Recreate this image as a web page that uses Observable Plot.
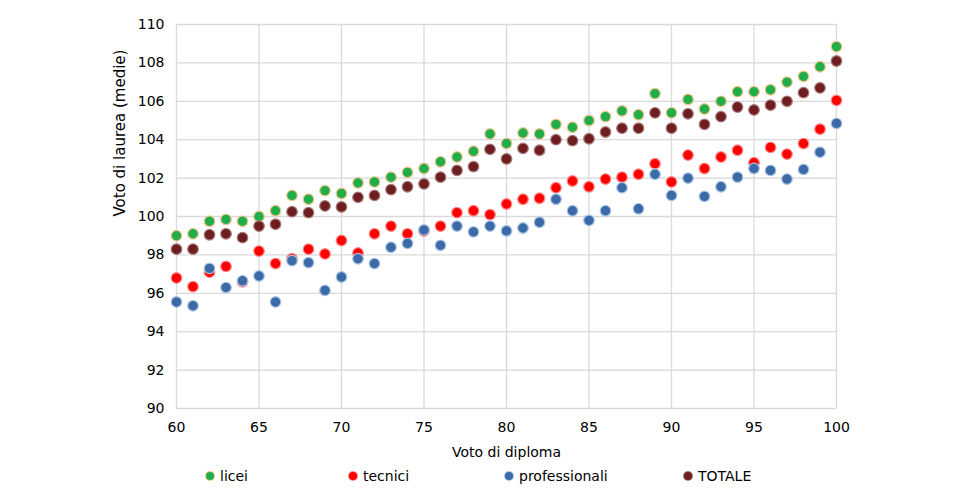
<!DOCTYPE html>
<html><head><meta charset="utf-8">
<script src="https://cdn.jsdelivr.net/npm/d3@7"></script>
<script src="https://cdn.jsdelivr.net/npm/@observablehq/plot@0.6"></script>
<style>
body{margin:0;background:#fff;font-family:"DejaVu Sans",sans-serif;}
#wrap{position:relative;width:964px;height:502px;}
#legend{position:absolute;left:0;top:460px;width:964px;height:42px;font-size:14px;color:#000;}
.li{position:absolute;top:8px;display:flex;align-items:center;white-space:nowrap;}
.sw{width:8px;height:8px;border-radius:50%;display:inline-block;margin-right:6px;}
</style></head><body>
<div id="wrap"><div id="chart"></div><div id="legend"></div></div>
<script>
const voti = [60,61,62,63,64,65,66,67,68,69,70,71,72,73,74,75,76,77,78,79,80,81,82,83,84,85,86,87,88,89,90,91,92,93,94,95,96,97,98,99,100];
const licei = [99.0,99.1,99.75,99.85,99.75,100.0,100.3,101.1,100.9,101.35,101.2,101.75,101.8,102.05,102.3,102.5,102.85,103.1,103.4,104.3,103.8,104.35,104.3,104.8,104.65,105.0,105.2,105.5,105.3,106.4,105.4,106.1,105.6,106.0,106.5,106.5,106.6,107.0,107.3,107.8,108.85];
const tecnici = [96.8,96.35,97.1,97.4,96.6,98.2,97.55,97.8,98.3,98.05,98.75,98.1,99.1,99.5,99.1,99.25,99.5,100.2,100.3,100.1,100.65,100.9,100.95,101.5,101.85,101.55,101.95,102.05,102.2,102.75,101.8,103.2,102.5,103.1,103.45,102.8,103.6,103.25,103.8,104.55,106.05];
const professionali = [95.55,95.35,97.3,96.3,96.65,96.9,95.55,97.7,97.6,96.15,96.85,97.8,97.55,98.4,98.6,99.3,98.5,99.5,99.2,99.5,99.25,99.4,99.7,100.9,100.3,99.8,100.3,101.5,100.4,102.2,101.1,102.0,101.05,101.55,102.05,102.5,102.4,101.95,102.45,103.35,104.85];
const totale = [98.3,98.3,99.05,99.1,98.9,99.5,99.6,100.25,100.2,100.55,100.5,101.0,101.1,101.4,101.55,101.7,102.05,102.4,102.6,103.5,103.0,103.55,103.45,104.0,103.95,104.05,104.4,104.6,104.6,105.4,104.6,105.35,104.8,105.2,105.7,105.55,105.8,106.0,106.45,106.7,108.1];
const xTicks = [60,65,70,75,80,85,90,95,100];
const yTicks = [90,92,94,96,98,100,102,104,106,108,110];
const serieNomi = ["licei","tecnici","professionali","TOTALE"];
const serieValori = [licei, tecnici, professionali, totale];
const fills = ["#1fae4a","#ff0000","#3c6aa6","#6e1e1e"];
const strokes = ["#f6c58e","#ff8a8a","#a9c4e6","#a87c7c"];
const xTitle = "Voto di diploma";
const yTitle = "Voto di laurea (medie)";

const rows = serieNomi.map((n, k) => voti.map((v, i) => ({serie: n, x: v, y: serieValori[k][i]})));

const chart = Plot.plot({
  width: 964, height: 460,
  marginLeft: 176, marginRight: 128, marginTop: 24, marginBottom: 52,
  style: {fontFamily: "DejaVu Sans, sans-serif", fontSize: "13px", color: "#000", background: "#fff"},
  x: {domain: [60, 100]},
  y: {domain: [90, 110]},
  marks: [
    Plot.gridX(xTicks, {stroke: "#d9d9d9", strokeOpacity: 1, strokeWidth: 1.3}),
    Plot.gridY(yTicks, {stroke: "#d9d9d9", strokeOpacity: 1, strokeWidth: 1.3}),
    Plot.axisX({ticks: xTicks, tickSize: 0, tickPadding: 14, fontSize: 14, label: xTitle, labelAnchor: "center", labelArrow: "none", labelOffset: 48}),
    Plot.axisY({ticks: yTicks, tickSize: 0, tickPadding: 12, fontSize: 14, label: null}),
    Plot.text([yTitle], {frameAnchor: "left", text: d => d, rotate: -90, dx: -56, fontSize: 15, fill: "#000"}),
    ...rows.map((r, k) => Plot.dot(r, {x: "x", y: "y", r: 5.3, fill: fills[k], stroke: strokes[k], strokeWidth: 1.2}))
  ]
});
document.getElementById("chart").appendChild(chart);

const legendPos = [[206,"licei"],[349,"tecnici"],[505,"professionali"],[684,"TOTALE"]];
const lg = document.getElementById("legend");
serieNomi.forEach((n, k) => {
  const d = document.createElement("div");
  d.className = "li";
  d.style.left = legendPos[k][0] + "px";
  const sw = document.createElement("span");
  sw.className = "sw";
  sw.style.background = fills[k];
  sw.style.boxShadow = "0 0 0 1px " + strokes[k];
  d.appendChild(sw);
  const t = document.createElement("span");
  t.textContent = n;
  d.appendChild(t);
  lg.appendChild(d);
});
</script>
</body></html>
